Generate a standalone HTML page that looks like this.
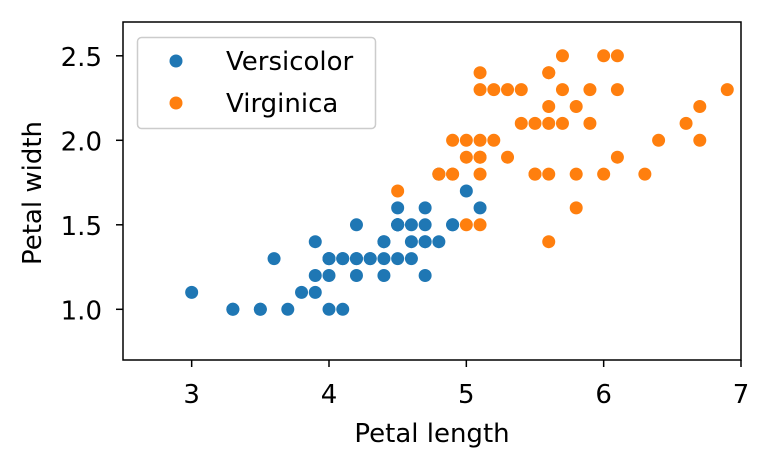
<!DOCTYPE html>
<html><head><meta charset="utf-8"><style>
body{margin:0;background:#fff}
svg text{font-family:"DejaVu Sans","Liberation Sans",sans-serif;fill:#000}
</style></head><body>
<svg width="771" height="468">
<g id="g"></g>
</svg>
<script>
const versicolorX=[4.7,4.5,4.9,4.0,4.6,4.5,4.7,3.3,4.6,3.9,3.5,4.2,4.0,4.7,3.6,4.4,4.5,4.1,4.5,3.9,4.8,4.0,4.9,4.7,4.3,4.4,4.8,5.0,4.5,3.5,3.8,3.7,3.9,5.1,4.5,4.5,4.7,4.4,4.1,4.0,4.4,4.6,4.0,3.3,4.2,4.2,4.2,4.3,3.0,4.1];
const versicolorY=[1.4,1.5,1.5,1.3,1.5,1.3,1.6,1.0,1.3,1.4,1.0,1.5,1.0,1.4,1.3,1.4,1.5,1.0,1.5,1.1,1.8,1.3,1.5,1.2,1.3,1.4,1.4,1.7,1.5,1.0,1.1,1.0,1.2,1.6,1.5,1.6,1.5,1.3,1.3,1.3,1.2,1.4,1.2,1.0,1.3,1.2,1.3,1.3,1.1,1.3];
const virginicaX=[6.0,5.1,5.9,5.6,5.8,6.6,4.5,6.3,5.8,6.1,5.1,5.3,5.5,5.0,5.1,5.3,5.5,6.7,6.9,5.0,5.7,4.9,6.7,4.9,5.7,6.0,4.8,4.9,5.6,5.8,6.1,6.4,5.6,5.1,5.6,6.1,5.6,5.5,4.8,5.4,5.6,5.1,5.1,5.9,5.7,5.2,5.0,5.2,5.4,5.1];
const virginicaY=[2.5,1.9,2.1,1.8,2.2,2.1,1.7,1.8,1.8,2.5,2.0,1.9,2.1,2.0,2.4,2.3,1.8,2.2,2.3,1.5,2.3,2.0,2.0,1.8,2.1,1.8,1.8,1.8,2.1,1.6,1.9,2.0,2.2,1.5,1.4,2.3,2.4,1.8,1.8,2.1,2.4,2.3,1.9,2.3,2.5,2.3,1.9,2.0,2.3,1.8];
const xTicks=[3,4,5,6,7];
const yTicks=[1.0,1.5,2.0,2.5];
const yTickLabels=["1.0","1.5","2.0","2.5"];
const L=123,R=741,T=22,B=360, x0=2.5,x1=7,y0=0.7,y1=2.7;
const sx=v=>L+(v-x0)/(x1-x0)*(R-L);
const sy=v=>B-(v-y0)/(y1-y0)*(B-T);
const g=document.getElementById('g');const NS='http://www.w3.org/2000/svg';
function mk(t,a,p){const e=document.createElementNS(NS,t);for(const k in a)e.setAttribute(k,a[k]);(p||g).appendChild(e);return e;}
function dots(xs,ys,c,name){for(let i=0;i<xs.length;i++){const e=mk('circle',{cx:sx(xs[i]),cy:sy(ys[i]),r:6.5,fill:c});

}}
dots(versicolorX,versicolorY,'#1f77b4','versicolor-point');
dots(virginicaX,virginicaY,'#ff7f0e','virginica-point');
const ax=mk('rect',{x:L,y:T,width:R-L,height:B-T,fill:'none',stroke:'#000','stroke-width':1.5});


xTicks.forEach(v=>{mk('line',{x1:sx(v),x2:sx(v),y1:B,y2:B+7,stroke:'#000','stroke-width':1.5});
const t=mk('text',{x:sx(v),y:403,'text-anchor':'middle','font-size':26});t.textContent=v;

});
yTicks.forEach((v,i)=>{mk('line',{x1:L-7,x2:L,y1:sy(v),y2:sy(v),stroke:'#000','stroke-width':1.5});
const t=mk('text',{x:L-21,y:sy(v)+10,'text-anchor':'end','font-size':26});t.textContent=yTickLabels[i];

});
</script>
<svg width="771" height="468" style="position:absolute;left:0;top:0">
<text x="432" y="442" text-anchor="middle" font-size="26">Petal length</text>
<text transform="translate(41,193) rotate(-90)" text-anchor="middle" font-size="26">Petal width</text>
<g>
<rect x="137.5" y="37.5" width="238" height="91" rx="4" fill="#fff" fill-opacity="0.8" stroke="#ccc" stroke-width="1.5"/>
<circle cx="176" cy="61" r="6.5" fill="#1f77b4"/>
<text x="226" y="70" font-size="26">Versicolor</text>
<circle cx="176" cy="103" r="6.5" fill="#ff7f0e"/>
<text x="226" y="112" font-size="26">Virginica</text>
</g>
</svg>
</body></html>
